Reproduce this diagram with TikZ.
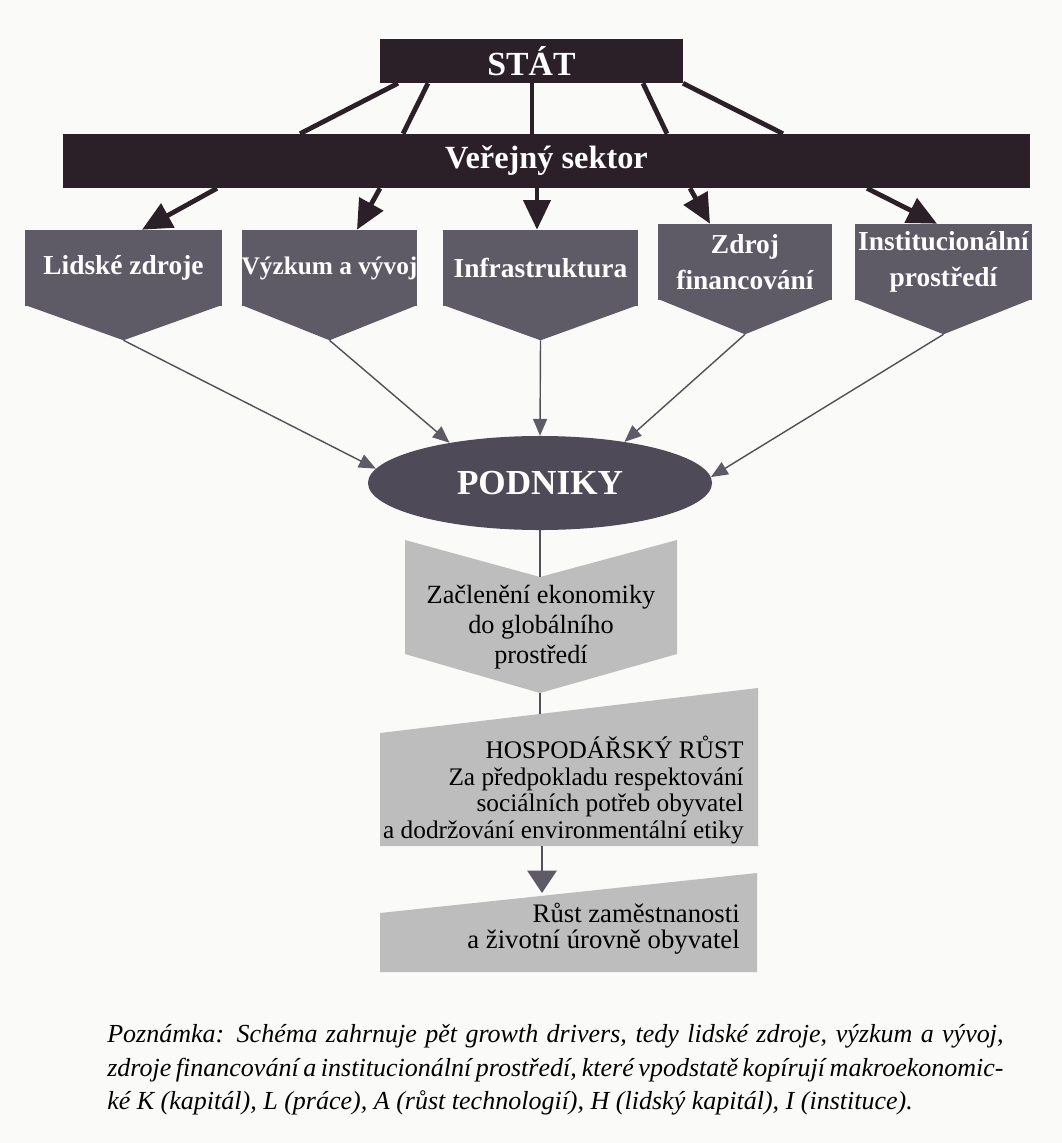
\documentclass[tikz,border=0pt]{standalone}
\usepackage{fontspec}
\setmainfont{Liberation Serif}
\usetikzlibrary{arrows.meta,shapes.geometric,calc}

\definecolor{paper}{HTML}{FAFAF8}
\definecolor{darkplum}{HTML}{2B2027}
\definecolor{drvgray}{HTML}{5E5A66}
\definecolor{podgray}{HTML}{4F4A58}
\definecolor{boxgray}{HTML}{BEBDBD}
\definecolor{linegray}{HTML}{505058}

\tikzset{
    topbox/.style={fill=darkplum, text=white, inner sep=0pt},
    drv/.style={fill=drvgray, text=white, inner sep=0pt, align=center,
        minimum height=1.9cm, font=\bfseries\fontsize{19.5}{26}\selectfont},
    statline/.style={draw=darkplum, line width=3.4pt},
    bigarrow/.style={draw=darkplum, line width=3.4pt,
        -{Triangle[length=21pt,width=19pt]}},
    thinarrow/.style={draw=linegray, line width=1pt,
        -{Triangle[length=12pt,width=10pt,color=drvgray]}},
    thinline/.style={draw=linegray, line width=1pt},
    graytxt/.style={text=black, inner sep=0pt}
}

\begin{document}
\begin{tikzpicture}[x=0.025cm, y=-0.025cm]
% paper
\fill[paper] (0,0) rectangle (1062,1143);

% state and public sector
\node[topbox, minimum width=7.575cm, minimum height=1.1cm,
    font=\bfseries\fontsize{24}{26}\selectfont] (stat) at (531.5,61) {STÁT};
\node[topbox, minimum width=24.175cm, minimum height=1.35cm,
    font=\bfseries\fontsize{23}{25}\selectfont] (vs) at (546.5,161) {Veřejný sektor};

\draw[statline] (stat.south -| 398,0) -- (vs.north -| 300,0);
\draw[statline] (stat.south -| 428,0) -- (vs.north -| 403,0);
\draw[statline] (stat.south -| 532,0) -- (vs.north -| 532,0);
\draw[statline] (stat.south -| 643,0) -- (vs.north -| 667,0);
\draw[statline] (stat.south -| 683,0) -- (vs.north -| 783,0);

% growth drivers
\node[drv, minimum width=4.925cm] (lz) at (123.5,268) {Lidské zdroje};
\node[drv, minimum width=4.375cm, font=\bfseries\fontsize{18}{26}\selectfont] (vv) at (329.5,268) {Výzkum a vývoj};
\node[drv, minimum width=4.875cm] (inf) at (540.5,268) {Infrastruktura};
\node[drv, minimum width=4.35cm] (zf) at (745,262) {Zdroj\\financování};
\node[drv, minimum width=4.425cm] (ip) at (943.5,262) {Institucionální\\prostředí};

\fill[drvgray] ([yshift=1pt]lz.south west) -- ([yshift=1pt]lz.south east) -- ([yshift=-0.85cm]lz.south) coordinate (lztip) -- cycle;
\fill[drvgray] ([yshift=1pt]vv.south west) -- ([yshift=1pt]vv.south east) -- ([yshift=-0.85cm]vv.south) coordinate (vvtip) -- cycle;
\fill[drvgray] ([yshift=1pt]inf.south west) -- ([yshift=1pt]inf.south east) -- ([yshift=-0.85cm]inf.south) coordinate (inftip) -- cycle;
\fill[drvgray] ([yshift=1pt]zf.south west) -- ([yshift=1pt]zf.south east) -- ([yshift=-0.85cm]zf.south) coordinate (zftip) -- cycle;
\fill[drvgray] ([yshift=1pt]ip.south west) -- ([yshift=1pt]ip.south east) -- ([yshift=-0.85cm]ip.south) coordinate (iptip) -- cycle;

\draw[bigarrow] (vs.south -| 217,0) -- (lz.north -| 142,0);
\draw[bigarrow] (vs.south -| 380,0) -- (vv.north -| 357,0);
\draw[bigarrow] (vs.south -| 537,0) -- (inf.north -| 537,0);
\draw[bigarrow] (vs.south -| 690,0) -- (zf.north -| 710,0);
\draw[bigarrow] (vs.south -| 867,0) -- (ip.north -| 937,0);

% firms
\node[ellipse, fill=podgray, text=white, inner sep=0pt,
    minimum width=8.6cm, minimum height=2.35cm,
    font=\bfseries\fontsize{25}{27}\selectfont] (pod) at (540,483) {PODNIKY};

\draw[thinarrow] (lztip) -- (pod.175);
\draw[thinarrow] (vvtip) -- (pod.156);
\draw[thinarrow] (inftip) -- (pod.north);
\draw[thinarrow] (zftip) -- (pod.26);
\draw[thinarrow] (iptip) -- (pod.2);

% integration into the global environment
\fill[boxgray] (405,540) -- (540,577) coordinate (gnotch) -- (677,540) -- (677,654)
    -- (540,693) coordinate (gtip) -- (405,654) -- cycle;
\node[graytxt, align=center, font=\fontsize{18.7}{21.3}\selectfont] (glob) at (541,627)
    {Začlenění ekonomiky\\do globálního\\prostředí};
\draw[thinline] (pod.south) -- (gnotch);

% economic growth
\fill[boxgray] (380,733) -- (758,688) -- (758,846) -- (380,846) -- cycle;
\coordinate (hrtop) at (540,714);
\coordinate (hrbot) at (542,846);
\node[graytxt, anchor=east, align=right, font=\fontsize{18}{19}\selectfont] (hr) at (744,790)
    {HOSPODÁŘSKÝ RŮST\\Za předpokladu respektování\\sociálních potřeb obyvatel\\a dodržování environmentální etiky};
\draw[thinline] (gtip) -- (hrtop);

% employment
\fill[boxgray] (380,913) -- (757,873) -- (757,972) -- (380,972) -- cycle;
\coordinate (zmtop) at (542,893);
\node[graytxt, anchor=east, align=right, font=\fontsize{19}{18.5}\selectfont] (zm) at (740,929)
    {Růst zaměstnanosti\\a životní úrovně obyvatel};
\draw[draw=linegray, line width=1pt, -{Triangle[length=16pt,width=21pt,color=drvgray]}] (hrbot) -- (zmtop);

% note
\node[anchor=north west, inner sep=0pt, text width=22.4cm, align=justify,
    font=\itshape\fontsize{18.5}{24}\selectfont] (note) at (107,1024)
    {Poznámka: Schéma zahrnuje pět growth drivers, tedy lidské zdroje, výzkum a vývoj,\linebreak
    zdroje financování a institucionální prostředí, které vpodstatě kopírují makroekonomic-\linebreak
    ké K (kapitál), L (práce), A (růst technologií), H (lidský kapitál), I (instituce).};
\end{tikzpicture}
\end{document}
